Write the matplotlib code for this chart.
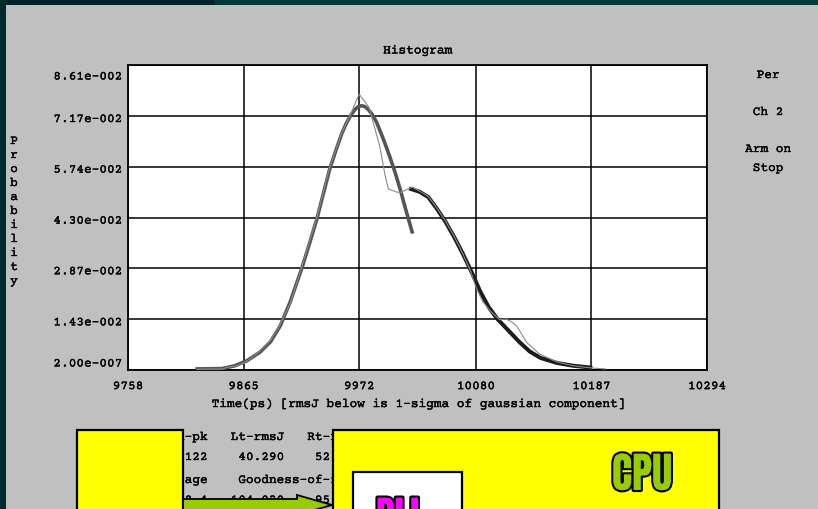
import matplotlib
matplotlib.use('Agg')
import matplotlib.pyplot as plt
from matplotlib.patches import Rectangle, Polygon
from matplotlib.transforms import ScaledTranslation
import matplotlib.patheffects as pe

MONO = ['Courier Prime', 'Nimbus Mono PS', 'FreeMono', 'Liberation Mono', 'DejaVu Sans Mono']
plt.rcParams['font.family'] = MONO
plt.rcParams['font.size'] = 9.2
THICK = [pe.withStroke(linewidth=0.25, foreground='black')]

# ---------------- data ----------------
x_ticks = [9758, 9865, 9972, 10080, 10187, 10294]
x_tick_labels = ['9758', '9865', '9972', '10080', '10187', '10294']
y_ticks = [2.00e-7, 1.43e-2, 2.87e-2, 4.30e-2, 5.74e-2, 7.17e-2, 8.61e-2]
y_tick_labels = ['2.00e-007', '1.43e-002', '2.87e-002', '4.30e-002',
                 '5.74e-002', '7.17e-002', '8.61e-002']

# left gaussian component (thick grey)
gauss_left_t = [9822, 9845, 9857, 9868, 9880, 9890, 9899, 9908, 9919, 9926,
                9933, 9939, 9945, 9951, 9956, 9960, 9964, 9968, 9971, 9974,
                9977, 9980, 9984, 9988, 9994, 10000, 10005, 10010, 10014, 10021]
gauss_left_p = [0.0003, 0.0004, 0.0012, 0.0026, 0.0050, 0.0080, 0.0125, 0.0191,
                0.0288, 0.0357, 0.0428, 0.0500, 0.0570, 0.0625, 0.0668, 0.0696,
                0.0718, 0.0735, 0.0743, 0.0746, 0.0744, 0.0737, 0.0722, 0.0700,
                0.0655, 0.0605, 0.0560, 0.0510, 0.0465, 0.0390]

# right gaussian component (thick black)
gauss_right_t = [10020, 10028, 10036, 10044, 10052, 10060, 10068, 10076, 10084,
                 10092, 10100, 10110, 10120, 10130, 10140, 10155, 10170, 10186]
gauss_right_p = [0.0511, 0.0503, 0.0488, 0.0455, 0.0418, 0.0375, 0.0328, 0.0277,
                 0.0222, 0.0177, 0.0144, 0.0112, 0.0080, 0.0052, 0.0034, 0.0020,
                 0.0012, 0.0007]

# measured histogram (thin grey)
measured_t = [9822, 9845, 9852, 9858, 9866, 9872, 9880, 9890, 9898, 9908, 9919,
              9933, 9945, 9956, 9965, 9972, 9981, 9991, 9996, 9999, 10007, 10011,
              10018, 10021, 10028, 10036, 10044, 10052, 10060, 10068, 10075,
              10080, 10086, 10093, 10102, 10108, 10113, 10118, 10127, 10139,
              10155, 10170, 10186, 10200]
measured_p = [0.0002, 0.0003, 0.0009, 0.0011, 0.0021, 0.0034, 0.0053, 0.0084,
              0.0124, 0.0186, 0.0292, 0.0433, 0.0575, 0.0670, 0.0729, 0.0779,
              0.0742, 0.0633, 0.0549, 0.0511, 0.0502, 0.0502, 0.0512, 0.0516,
              0.0505, 0.0490, 0.0457, 0.0420, 0.0377, 0.0328, 0.0280, 0.0235,
              0.0195, 0.0168, 0.0142, 0.0144, 0.0136, 0.0124, 0.0078, 0.0045,
              0.0023, 0.0012, 0.0006, 0.0003]

stats_rows = ['  Pk-pk   Lt-rmsJ   Rt-rmsJ',
              '108.122    40.290    52.311',
              'Average    Goodness-of-fit',
              '    8.4   104.030    95.410']
side_texts = ['Per', 'Ch 2', 'Arm on', 'Stop']

# ---------------- figure ----------------
W, H = 818, 510
fig = plt.figure(figsize=(W / 100, H / 100), dpi=100, facecolor='#c0c0c0')
ax = fig.add_axes([128 / W, 1 - 371 / H, 579 / W, 305 / H], zorder=1)
ax.set_facecolor('white')
ax.set_xlim(x_ticks[0], x_ticks[-1])
ax.set_ylim(0, 0.0861)
ax.set_xticks(x_ticks)
ax.set_xticklabels(x_tick_labels)
for lbl in ax.get_xticklabels():
    lbl.set_path_effects(THICK)
ax.set_yticks(y_ticks)
ax.set_yticklabels([])
ax.tick_params(length=0)
ax.tick_params(axis='x', pad=8)
ax.grid(True, color='black', lw=1.1)
ax.set_axisbelow(True)
for s in ax.spines.values():
    s.set_color('black')
    s.set_linewidth(1.3)

ax.plot(gauss_left_t, gauss_left_p, color='#555555', lw=2.6, zorder=3)
ax.plot(gauss_right_t, gauss_right_p, color='#1c1c1c', lw=2.9, zorder=3)
ax.plot(measured_t, measured_p, color='#8a8a8a', lw=0.8, zorder=4)

offsets = [6.5, -3, -3, -3, -3, -3, -11.5]
for v, lab, dy in zip(y_ticks, y_tick_labels, offsets):
    tr = ax.get_yaxis_transform() + ScaledTranslation(0, dy / 100, fig.dpi_scale_trans)
    ax.text(-6 / 579, v, lab, transform=tr, ha='right', va='center', path_effects=THICK)

ax.text(0.5, 1 + 14.5 / 305, 'Histogram', transform=ax.transAxes,
        ha='center', va='center', path_effects=THICK)
xl = ax.set_xlabel('Time(ps) [rmsJ below is 1-sigma of gaussian component]', labelpad=5)
xl.set_path_effects(THICK)

# ---------------- overlay (slide decorations) ----------------
ov = fig.add_axes([0, 0, 1, 1], zorder=2)
ov.set_xlim(0, W)
ov.set_ylim(H, 0)
ov.axis('off')
ov.patch.set_alpha(0)

ov.add_patch(Rectangle((0, 0), W, 6, fc='#003a3c', ec='none'))
ov.add_patch(Rectangle((0, 0), 215, 6, fc='#00222a', ec='none'))
ov.add_patch(Rectangle((0, 0), 6, H, fc='#002a2e', ec='none'))

for i, ch in enumerate('Probability'):
    ov.text(14, 142 + i * 14, ch, ha='center', va='center', path_effects=THICK)

for t, y in zip(side_texts, [76, 113, 150, 169]):
    ov.text(768, y, t, ha='center', va='center', path_effects=THICK)

for row, y in zip(stats_rows, [438, 458, 481, 501]):
    ov.text(154, y, row, ha='left', va='center', zorder=1, path_effects=THICK)

ov.add_patch(Rectangle((77, 431), 106, 100, fc='#ffff00', ec='black', lw=1.6, zorder=3))
ov.add_patch(Polygon([(183, 500), (297, 500), (297, 496), (332, 506),
                      (297, 516), (297, 512), (183, 512)],
                     closed=True, fc='#99cc00', ec='black', lw=1.3, zorder=3))
ov.add_patch(Rectangle((333, 431), 386, 100, fc='#ffff00', ec='black', lw=1.6, zorder=4))
ov.add_patch(Rectangle((353, 473), 109, 60, fc='white', ec='black', lw=1.6, zorder=5))

COND = ['Anton', 'Oswald', 'Bebas Neue', 'Fjalla One', 'IBM Plex Sans Condensed', 'DejaVu Sans']
ov.text(642, 491, 'CPU', family=COND, weight='bold', fontsize=30.5,
        color='#99cc00', ha='center', va='baseline', zorder=6,
        path_effects=[pe.withStroke(linewidth=3, foreground='black')])
ov.text(376, 532, 'PLL', family=COND, weight='bold', fontsize=28,
        color='#ff00ff', ha='left', va='baseline', zorder=6,
        path_effects=[pe.withStroke(linewidth=3, foreground='black')])

fig.savefig('out.png', dpi=100, facecolor=fig.get_facecolor())
